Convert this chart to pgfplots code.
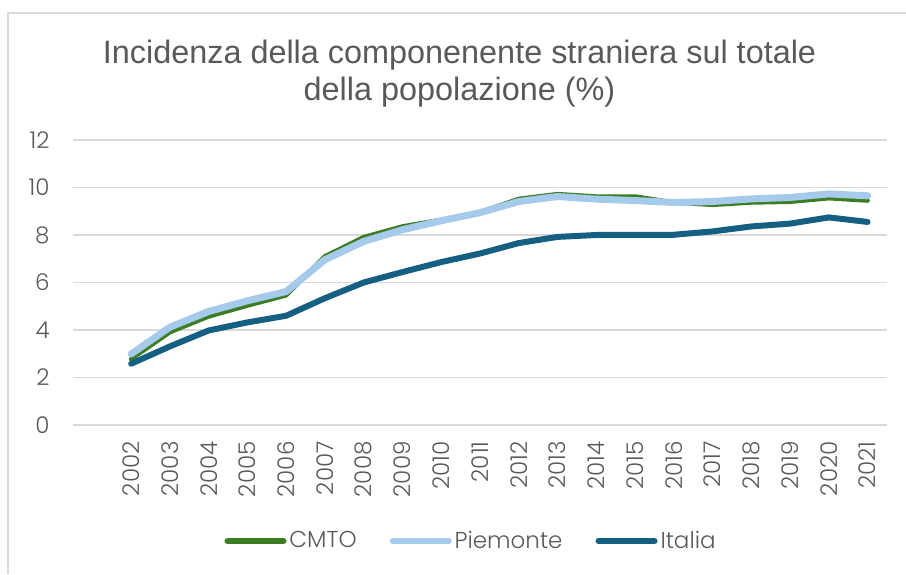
\documentclass[border=0pt]{standalone}
\usepackage{fontspec}
\setmainfont{Liberation Sans}
\newfontfamily\tickfont{Poppins Light}
\usepackage{pgfplots}
\pgfplotsset{compat=1.18}
\definecolor{cmto}{HTML}{3B7D23}
\definecolor{piem}{HTML}{A6CAEC}
\definecolor{ital}{HTML}{156082}
\definecolor{txt}{HTML}{595959}
\definecolor{gridc}{HTML}{D9D9D9}
\begin{document}
\begin{tikzpicture}
\useasboundingbox (0,0) rectangle (453pt,287pt);
\draw[gridc, line width=1pt] (4pt,0) -- (4pt,280.5pt) -- (453pt,280.5pt);
\node[anchor=base, font=\fontsize{16.2}{17}\selectfont, text=txt] at (229.75pt,255pt) {Incidenza della componenente straniera sul totale};
\node[anchor=base, font=\fontsize{16.2}{17}\selectfont, text=txt] at (229.75pt,236.8pt) {della popolazione (\%)};
\begin{axis}[
  at={(36.5pt,74.5pt)}, anchor=south west,
  width=407pt, height=142.5pt, scale only axis,
  xmin=-1.5, xmax=19.5, ymin=0, ymax=12,
  axis line style={draw=none},
  ytick={0,2,...,12},
  xtick={0,...,19},
  xticklabels={2002,2003,2004,2005,2006,2007,2008,2009,2010,2011,2012,2013,2014,2015,2016,2017,2018,2019,2020,2021},
  major tick length=0pt,
  xmajorgrids=false, ymajorgrids=true,
  major grid style={draw=gridc, line width=0.75pt},
  /pgf/number format/assume math mode=true,
  ticklabel style={font=\tickfont\fontsize{11.5}{12}\selectfont, text=txt, inner sep=0pt},
  yticklabel style={anchor=east},
  yticklabel shift=11.5pt,
  xticklabel style={rotate=90, anchor=east},
  xticklabel shift=8pt,
  legend columns=-1,
  legend style={draw=none, fill=none, at={(0.4896,-0.407)}, anchor=center,
    font=\tickfont\fontsize{11.5}{12}\selectfont, text=txt,
    inner sep=0pt, /tikz/every even column/.append style={column sep=15pt},
    nodes={inner sep=1.5pt}},
  legend image code/.code={\draw[#1, line width=3pt] (0pt,0pt) -- (28pt,0pt);},
  every axis plot/.append style={line cap=round, line join=round, no marks},
]
\addplot[cmto, line width=2.25pt] coordinates {
(0,2.78) (1,3.91) (2,4.57) (3,5.03) (4,5.46) (5,7.10) (6,7.91) (7,8.36) (8,8.64) (9,8.96)
(10,9.52) (11,9.72) (12,9.62) (13,9.62) (14,9.37) (15,9.27) (16,9.37) (17,9.40) (18,9.55) (19,9.45)};
\addlegendentry{CMTO}
\addplot[piem, line width=3.5pt] coordinates {
(0,2.99) (1,4.12) (2,4.78) (3,5.23) (4,5.62) (5,6.96) (6,7.73) (7,8.22) (8,8.60) (9,8.94)
(10,9.41) (11,9.62) (12,9.51) (13,9.45) (14,9.37) (15,9.41) (16,9.52) (17,9.58) (18,9.73) (19,9.65)};
\addlegendentry{Piemonte}
\addplot[ital, line width=3pt] coordinates {
(0,2.58) (1,3.31) (2,3.98) (3,4.32) (4,4.60) (5,5.34) (6,6.00) (7,6.44) (8,6.86) (9,7.22)
(10,7.66) (11,7.92) (12,8.00) (13,8.01) (14,8.01) (15,8.15) (16,8.36) (17,8.48) (18,8.74) (19,8.55)};
\addlegendentry{Italia}
\end{axis}
\end{tikzpicture}
\end{document}
